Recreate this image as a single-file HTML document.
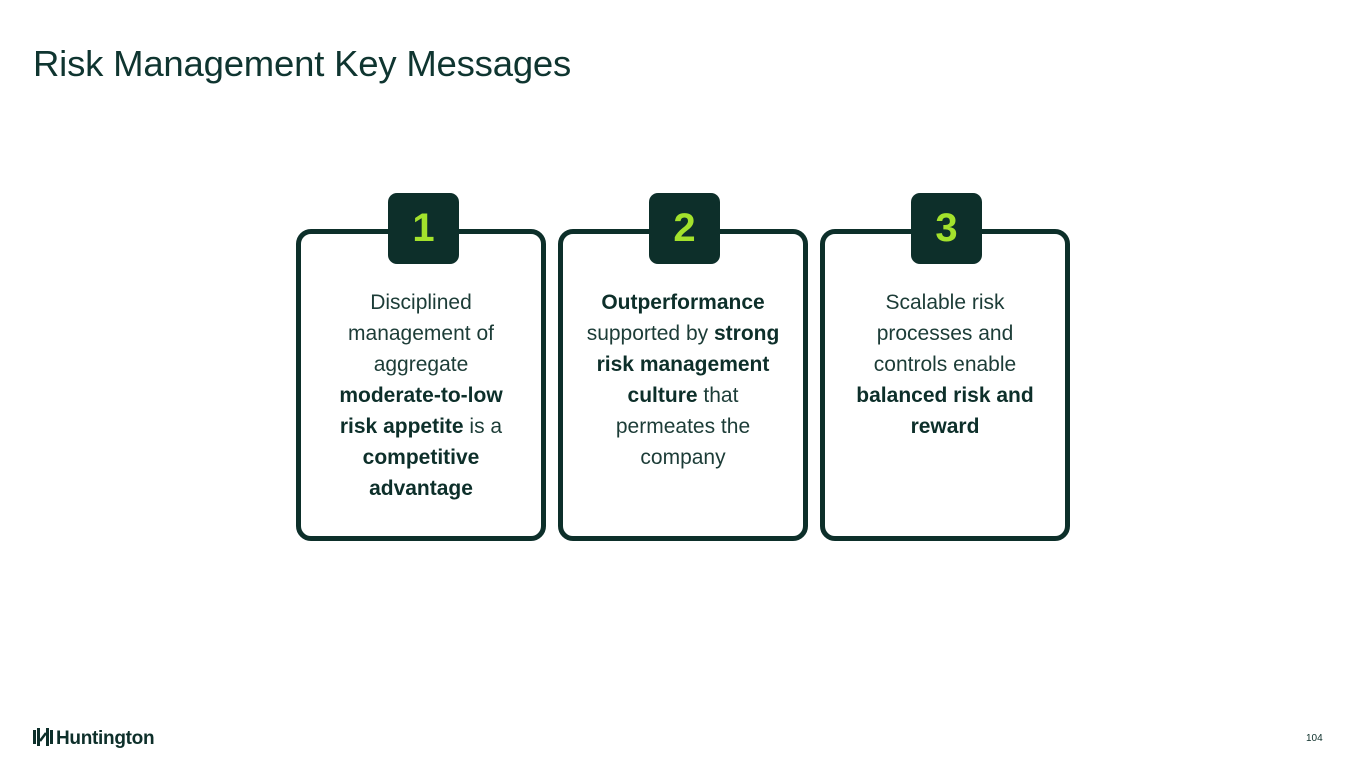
<!DOCTYPE html>
<html><head><style>
body{margin:0;width:1365px;height:768px;background:#fff;position:relative;overflow:hidden;font-family:"Liberation Sans",sans-serif;color:#0f3530}
.t{position:absolute;left:33px;top:43px;font-size:36.5px;color:#0f3530;letter-spacing:-0.2px}
.box{position:absolute;top:229px;width:240px;height:302px;border:5px solid #0d2f2a;border-radius:15px;box-sizing:content-box}
.badge{position:absolute;top:193px;width:71px;height:71px;background:#0d2f2a;border-radius:9px;color:#a3e22c;font-weight:bold;font-size:40px;text-align:center;line-height:71px}
.txt{position:absolute;top:287px;width:250px;text-align:center;font-size:21px;line-height:31px;color:#1c3c37}
b{color:#0d2f2a}
.logo{position:absolute;left:33px;top:727px;font-weight:bold;font-size:19px;color:#0d2f2a;letter-spacing:-0.3px}
.pg{position:absolute;left:1306px;top:733px;font-size:10px;color:#0d2f2a}
</style></head><body>
<div class="t">Risk Management Key Messages</div>
<div class="box" style="left:296px"></div>
<div class="box" style="left:558px"></div>
<div class="box" style="left:820px"></div>
<div class="badge" style="left:388px">1</div>
<div class="badge" style="left:649px">2</div>
<div class="badge" style="left:911px">3</div>
<div class="txt" style="left:296px">Disciplined<br>management of<br>aggregate<br><b>moderate-to-low<br>risk appetite</b> is a<br><b>competitive<br>advantage</b></div>
<div class="txt" style="left:558px"><b>Outperformance</b><br>supported by <b>strong<br>risk management<br>culture</b> that<br>permeates the<br>company</div>
<div class="txt" style="left:820px">Scalable risk<br>processes and<br>controls enable<br><b>balanced risk and<br>reward</b></div>
<div class="logo"><svg width="20" height="20" viewBox="0 0 20 20" style="vertical-align:-3px;margin-right:3px"><rect x="0" y="3" width="3" height="14" fill="#0d2f2a"/><rect x="4" y="1" width="3" height="18" fill="#0d2f2a"/><rect x="13" y="1" width="3" height="18" fill="#0d2f2a"/><rect x="17" y="3" width="3" height="14" fill="#0d2f2a"/><path d="M7 14 L13 6" stroke="#0d2f2a" stroke-width="2.5"/></svg>Huntington</div>
<div class="pg">104</div>
</body></html>
